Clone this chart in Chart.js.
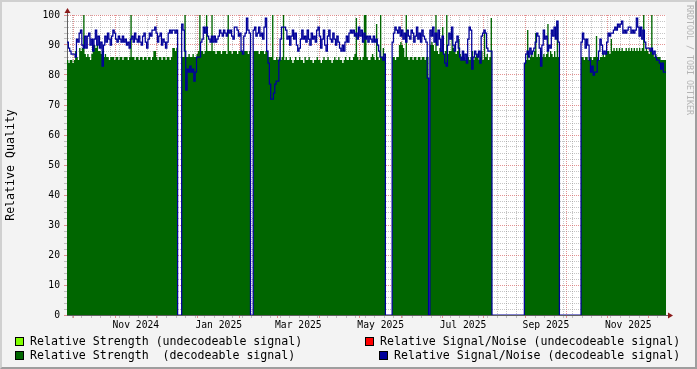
<!DOCTYPE html>
<html><head><meta charset="utf-8">
<script src="https://cdn.jsdelivr.net/npm/chart.js@4.4.1/dist/chart.umd.min.js"></script>
<style>
html,body{margin:0;padding:0;background:#f3f3f3;}
#wrap{position:relative;width:697px;height:369px;overflow:hidden;background:#f3f3f3;font-family:'DejaVu Sans Mono',monospace;}
#c{position:absolute;left:0;top:0;}
.frame{position:absolute;left:0;top:0;width:697px;height:369px;box-sizing:border-box;border-top:2px solid #d0d0d0;border-left:2px solid #d0d0d0;border-right:2px solid #9e9e9e;border-bottom:2px solid #9e9e9e;pointer-events:none;}
.lg{position:absolute;font-size:11.6px;line-height:14px;white-space:pre;color:#000;}
.sw{position:absolute;width:7px;height:7px;border:1px solid #000;}
.wm{position:absolute;left:694px;top:5px;font-size:8.3px;line-height:9px;white-space:pre;color:#b4b4b4;transform:rotate(90deg);transform-origin:0 0;}
</style></head>
<body>
<div id="wrap">
<canvas id="c" width="697" height="369"></canvas>
<div class="sw" style="left:15px;top:337px;background:#80ff00"></div>
<div class="lg" style="left:30px;top:334px">Relative Strength (undecodeable signal)</div>
<div class="sw" style="left:15px;top:351px;background:#006600"></div>
<div class="lg" style="left:30px;top:348px">Relative Strength  (decodeable signal)</div>
<div class="sw" style="left:365px;top:337px;background:#ff0000"></div>
<div class="lg" style="left:380px;top:334px">Relative Signal/Noise (undecodeable signal)</div>
<div class="sw" style="left:379px;top:351px;background:#000099"></div>
<div class="lg" style="left:394px;top:348px">Relative Signal/Noise (decodeable signal)</div>
<div class="wm">RRDTOOL / TOBI OETIKER</div>
<div class="frame"></div>
</div>
<script>
// ---- data (day index 0 = 2024-09-26) ----
const startDate = Date.UTC(2024, 8, 26);
const totalDays = 444;
const segmentStarts = [0, 86, 139, 242, 270, 340, 382];

const strength1 = [85,85,84,85,85,84,85,88,86,85,89,88,89,100,87,86,87,86,85,87,90,90,89,90,88,88,87,88,86,87,86,86,85,86,86,86,85,86,86,85,86,86,85,86,86,86,85,86,100,86,86,85,86,86,85,86,86,85,86,86,85,86,86,85,86,88,88,86,85,86,86,85,86,86,85,86,86,85,86,89,89,88,89];
const snr1 = [91,91,89,88,87,87,87,86,92,91,94,95,90,89,93,89,93,94,90,92,88,92,95,90,93,89,91,83,90,93,91,94,92,90,93,95,94,92,91,93,92,91,93,91,92,90,91,89,92,93,91,94,92,91,93,91,90,93,94,91,89,92,94,93,95,95,96,94,91,93,94,90,92,91,89,91,94,95,94,95,95,94,95];

const strength2 = [86,86,100,86,86,87,86,86,87,86,86,87,88,100,88,88,87,88,100,88,88,88,100,88,88,87,88,88,88,87,88,88,88,87,100,88,88,87,88,88,88,87,88,88,88,87,88,88,88,87,88];
const snr2 = [97,95,88,75,82,81,83,81,82,78,81,86,86,86,91,92,96,94,96,93,92,91,93,91,93,91,92,93,95,94,93,95,94,93,95,94,95,93,92,96,96,95,93,94,88,87,93,94,99,95,94];

const strength3 = [88,88,88,88,87,88,88,88,87,88,88,86,86,86,100,85,85,86,85,86,85,86,100,85,86,85,85,86,85,84,85,86,85,85,86,85,85,84,86,85,85,86,85,85,84,85,85,86,85,85,84,85,86,85,85,86,85,85,84,85,86,85,85,86,85,85,84,85,86,85,85,86,85,85,86,87,99,86,85,86,85,86,100,100,86,85,85,86,87,86,85,97,86,85,100,86,89,86];
const snr3 = [95,96,93,94,96,93,94,92,96,99,88,84,77,72,72,74,77,78,78,85,92,96,96,96,95,92,93,90,93,95,92,94,90,88,89,92,95,92,93,91,95,92,90,94,92,93,91,95,96,93,89,92,95,90,88,93,95,92,91,94,92,90,93,91,89,88,90,88,91,93,91,94,95,94,95,93,94,92,96,93,95,91,94,92,93,91,93,92,91,93,91,92,90,88,86,86,85,87];

const strength4 = [86,86,85,86,86,90,91,90,89,86,100,86,85,86,86,85,86,86,85,86,86,85,86,86,85,86,86];
const snr4 = [91,94,96,95,94,96,93,95,92,94,91,95,93,92,95,94,91,93,96,92,94,91,95,93,92,91,79];

const strength5 = [90,91,90,88,100,88,87,89,88,96,87,88,100,87,88,88,94,89,88,87,88,92,87,86,88,86,85,87,86,85,86,88,85,86,87,86,85,86,88,85,94,86,87,85,86,99];
const snr5 = [95,93,96,91,94,90,95,92,88,93,87,84,83,90,94,92,96,90,88,91,93,89,86,85,88,85,87,84,92,96,95,82,86,88,87,86,88,84,93,94,95,94,89,88,88,88];

const strength6 = [84,85,95,85,86,87,86,88,94,86,87,86,88,86,87,86,87,97,86,88,87,86,88,86,97,86];
const snr6 = [84,87,88,86,89,87,88,89,91,94,93,89,83,90,95,92,93,88,90,89,95,93,96,92,98,91];

const strength7 = [86,86,85,86,86,85,86,86,85,86,86,93,86,85,86,86,87,86,87,88,88,87,92,88,89,88,89,88,89,88,89,88,88,89,88,89,88,89,88,89,88,89,88,89,88,89,100,88,89,88,87,88,100,87,86,87,86,86,86,85,85,85];
const snr7 = [91,94,92,89,92,90,85,81,83,80,81,81,85,88,92,90,87,88,87,91,94,93,94,94,95,96,95,97,96,97,98,94,95,94,95,96,96,94,95,94,95,99,96,93,96,92,95,91,89,89,89,88,89,87,88,86,85,85,84,82,84,81];

const monthLabels = ['Nov 2024','Jan 2025','Mar 2025','May 2025','Jul 2025','Sep 2025','Nov 2025'];
const yLabelValues = [0,10,20,30,40,50,60,70,80,90,100];

// ---- build full series (gaps read as 0) ----
const strengthSegs = [strength1,strength2,strength3,strength4,strength5,strength6,strength7];
const snrSegs = [snr1,snr2,snr3,snr4,snr5,snr6,snr7];
function buildSeries(segs){
  const arr = new Array(totalDays).fill(0);
  segs.forEach((s,k)=>{ s.forEach((v,i)=>{ arr[segmentStarts[k]+i] = v; }); });
  const pts = arr.map((v,i)=>({x:i,y:v}));
  pts.push({x:totalDays,y:arr[totalDays-1]});
  return pts;
}
const strengthPts = buildSeries(strengthSegs);
const snrPts = buildSeries(snrSegs);

// ---- x ticks ----
const DAY = 86400000;
const mon = {Jan:0,Feb:1,Mar:2,Apr:3,May:4,Jun:5,Jul:6,Aug:7,Sep:8,Oct:9,Nov:10,Dec:11};
const xTicks = [];
for (let d = 4; d < totalDays; d += 7) xTicks.push({v:d, kind:'minor', label:''});
for (let y = 2024, m = 9; ; m++) {
  if (m > 11) { m = 0; y++; }
  const d = (Date.UTC(y,m,1) - startDate)/DAY;
  if (d > totalDays) break;
  for (let i = xTicks.length-1; i >= 0; i--) if (xTicks[i].v === d) xTicks.splice(i,1);
  xTicks.push({v:d, kind:'major', label:''});
}
monthLabels.forEach(l=>{
  const [mn, yr] = l.split(' ');
  const y = +yr, m = mon[mn];
  const a = (Date.UTC(y,m,1)-startDate)/DAY, b = (Date.UTC(y,m+1,1)-startDate)/DAY;
  xTicks.push({v:(a+b)/2, kind:'label', label:l});
});
xTicks.sort((p,q)=>p.v-q.v);

const MINOR = 'rgba(140,140,140,0.5)';
const MAJOR = 'rgba(205,60,60,0.55)';
const FONT = "'DejaVu Sans Mono', monospace";

const plotBg = {
  id:'plotBg',
  beforeDraw(chart){
    const {ctx, chartArea:a} = chart;
    ctx.save(); ctx.fillStyle = '#ffffff';
    ctx.fillRect(a.left, a.top, a.right-a.left, a.bottom-a.top);
    ctx.restore();
  },
  afterDraw(chart){
    const {ctx, chartArea:a} = chart;
    ctx.save();
    ctx.strokeStyle = '#606060'; ctx.lineWidth = 1;
    ctx.beginPath();
    ctx.moveTo(a.left+0.5, a.top); ctx.lineTo(a.left+0.5, a.top-4);
    ctx.moveTo(a.right, a.bottom+0.5); ctx.lineTo(a.right+3, a.bottom+0.5);
    ctx.stroke();
    ctx.fillStyle = '#8b1a1a';
    ctx.beginPath();
    ctx.moveTo(a.left-2.5, a.top-2); ctx.lineTo(a.left+3.5, a.top-2); ctx.lineTo(a.left+0.5, a.top-7); ctx.closePath(); ctx.fill();
    ctx.beginPath();
    ctx.moveTo(a.right+2, a.bottom-2.5); ctx.lineTo(a.right+2, a.bottom+3.5); ctx.lineTo(a.right+7, a.bottom+0.5); ctx.closePath(); ctx.fill();
    ctx.restore();
  }
};

new Chart(document.getElementById('c'), {
  type:'line',
  data:{ datasets:[
    { label:'Relative Signal/Noise (decodeable signal)', data:snrPts, borderColor:'#000099', borderWidth:1.25, stepped:'after', pointRadius:0, fill:false, order:0 },
    { label:'Relative Strength (decodeable signal)', data:strengthPts, borderColor:'rgba(0,0,0,0)', borderWidth:0, backgroundColor:'#006600', stepped:'after', pointRadius:0, fill:'origin', order:1 }
  ]},
  options:{
    animation:false, responsive:false, devicePixelRatio:1,
    events:[],
    layout:{ padding:{left:0, right:31, top:15, bottom:0} },
    plugins:{ legend:{display:false}, tooltip:{enabled:false} },
    scales:{
      x:{
        type:'linear', min:0, max:totalDays, z:1,
        afterFit:s=>{ s.height = 54; },
        afterBuildTicks:s=>{ s.ticks = xTicks.map(t=>({value:t.v})); },
        ticks:{ autoSkip:false, maxRotation:0, minRotation:0, padding:2, color:'#000',
          font:{family:FONT, size:9.7}, callback:(v,i)=>xTicks[i]?xTicks[i].label:'' },
        grid:{ lineWidth:1, tickLength:3,
          color:c=>{ const t=xTicks[c.index]; return !t||t.kind==='label' ? 'rgba(0,0,0,0)' : (t.kind==='major'?MAJOR:MINOR); },
          tickColor:c=>{ const t=xTicks[c.index]; return !t||t.kind==='label' ? 'rgba(0,0,0,0)' : (t.kind==='major'?MAJOR:MINOR); } },
        border:{ display:true, color:'#606060', width:1, dash:[1,1] }
      },
      y:{
        min:0, max:100, z:1,
        afterFit:s=>{ s.width = 67; },
        afterBuildTicks:s=>{ const t=[]; for(let v=0; v<=100; v+=2) t.push({value:v}); s.ticks=t; },
        ticks:{ autoSkip:false, padding:4, color:'#000', font:{family:FONT, size:9.7},
          callback:v=> yLabelValues.includes(v) ? String(v) : '' },
        grid:{ lineWidth:1, tickLength:3,
          color:c=> (c.tick && c.tick.value%10===0) ? MAJOR : MINOR,
          tickColor:c=> (c.tick && c.tick.value%10===0) ? MAJOR : MINOR },
        border:{ display:true, color:'#606060', width:1, dash:[1,1] },
        title:{ display:true, text:'Relative Quality', color:'#000', font:{family:FONT, size:11.6}, padding:{top:4,bottom:0} }
      }
    }
  },
  plugins:[plotBg]
});
</script>
</body></html>
